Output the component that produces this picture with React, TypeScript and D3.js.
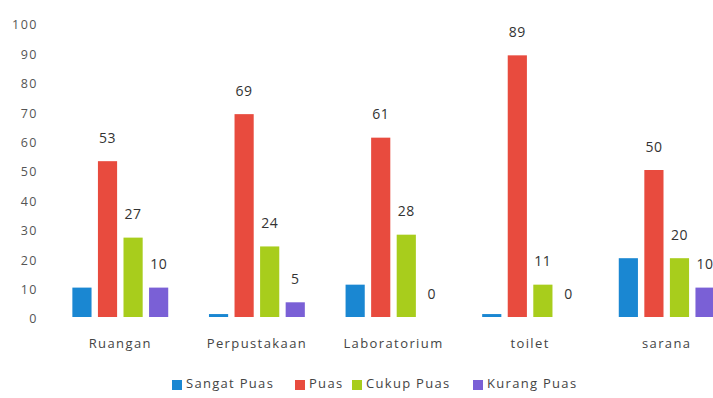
import React from "react";
import * as d3 from "d3";

const categories = ["Ruangan", "Perpustakaan", "Laboratorium", "toilet", "sarana"];
const seriesNames = ["Sangat Puas", "Puas", "Cukup Puas", "Kurang Puas"];
const sangatPuas = [10, 1, 11, 1, 20];
const puas = [53, 69, 61, 89, 50];
const cukupPuas = [27, 24, 28, 11, 20];
const kurangPuas = [10, 5, 0, 0, 10];
const showLabels = [false, true, true, true];
const yTicks = [0, 10, 20, 30, 40, 50, 60, 70, 80, 90, 100];
const colors = ["#1a87d2", "#e84b3e", "#a8cd1c", "#7a60d6"];

const W = 713;
const H = 398;

export default function App() {
  const series = [sangatPuas, puas, cukupPuas, kurangPuas];
  const x = d3.scaleBand<string>().domain(categories).range([52, 735]).paddingInner(0).paddingOuter(0);
  const groupW = 102;
  const sub = d3
    .scaleBand<string>()
    .domain(seriesNames)
    .range([(x.bandwidth() - groupW) / 2, (x.bandwidth() + groupW) / 2])
    .paddingInner(0.25)
    .paddingOuter(0.12);
  const y = d3.scaleLinear().domain([0, 100]).range([317, 23]);
  const font = "'Open Sans', 'DejaVu Sans', sans-serif";

  return (
    <svg width={W} height={H} style={{ position: "absolute", left: 0, top: 0, background: "#fff" }} fontFamily={font}>
      <rect width={W} height={H} fill="#ffffff" />
      {yTicks.map((t) => (
        <text key={t} x={38} y={y(t) + 3} textAnchor="end" dominantBaseline="middle" fontSize={12.5} letterSpacing={1.5} fill="#555">
          {t}
        </text>
      ))}
      {categories.map((c, ci) => (
        <g key={c} transform={`translate(${x(c)},0)`}>
          {series.map((s, si) => {
            const v = s[ci];
            const bx = sub(seriesNames[si])!;
            const bw = sub.bandwidth();
            return (
              <g key={si}>
                {v > 0 && <rect x={bx} y={y(v)} width={bw} height={y(0) - y(v)} fill={colors[si]} />}
                {showLabels[si] && (
                  <text
                    x={bx + bw / 2}
                    y={y(v) - 22}
                    textAnchor="middle"
                    dominantBaseline="middle"
                    fontSize={14}
                    letterSpacing={0.5}
                    fill="#333"
                  >
                    {v}
                  </text>
                )}
              </g>
            );
          })}
          <text x={x.bandwidth() / 2} y={345} textAnchor="middle" dominantBaseline="middle" fontSize={13} letterSpacing={1.4} fill="#444">
            {c}
          </text>
        </g>
      ))}
      {(() => {
        const xs = [172, 295, 352, 473];
        return seriesNames.map((n, i) => (
          <g key={n} transform={`translate(${xs[i]},385)`}>
            <rect x={0} y={-5} width={10} height={10} fill={colors[i]} />
            <text x={14} y={0} dominantBaseline="middle" fontSize={13} letterSpacing={1.3} fill="#444">
              {n}
            </text>
          </g>
        ));
      })()}
    </svg>
  );
}
